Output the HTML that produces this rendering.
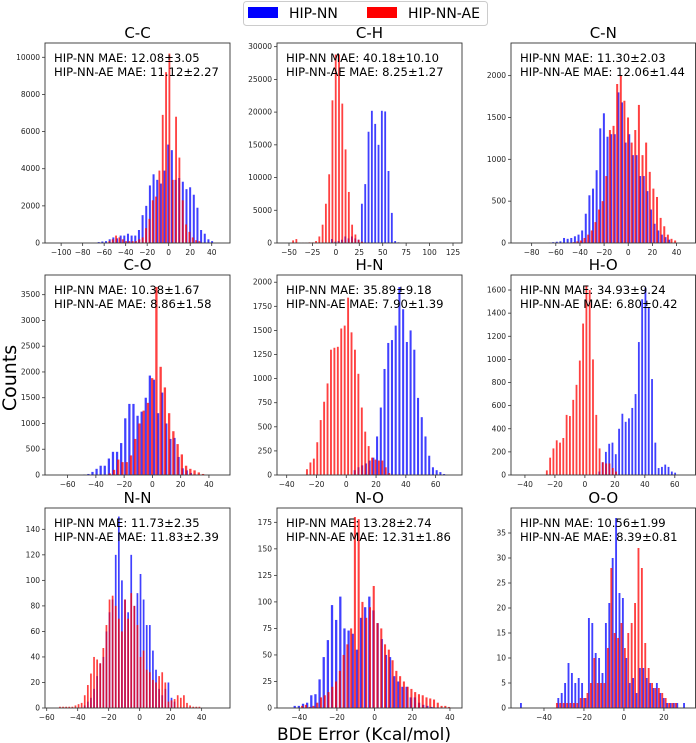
<!DOCTYPE html>
<html><head><meta charset="utf-8"><style>
html,body{margin:0;padding:0;background:#fff;}
svg{display:block;font-family:"DejaVu Sans","Liberation Sans",sans-serif;}
</style></head><body>
<svg id="fig" width="696" height="743" viewBox="0 0 696 743">
  <g>
    <rect x="243.5" y="1.5" width="244" height="24" rx="3" fill="#fff" stroke="#ccc"/>
    <rect x="248" y="7" width="30" height="11" fill="#0000ff"/>
    <text x="289" y="18" font-size="14">HIP-NN</text>
    <rect x="367" y="7" width="30" height="11" fill="#ff0000"/>
    <text x="408" y="18" font-size="14">HIP-NN-AE</text>
  </g>
  <text transform="translate(16,378) rotate(-90)" text-anchor="middle" font-size="19">Counts</text>
  <text x="364" y="740" text-anchor="middle" font-size="17">BDE Error (Kcal/mol)</text>
  <g id="panels"></g>
</svg>
<script>
// ---- data ----
const panelTitles = ["C-C","C-H","C-N","C-O","H-N","H-O","N-N","N-O","O-O"];
const maeNN = ["12.08±3.05","40.18±10.10","11.30±2.03","10.38±1.67","35.89±9.18","34.93±9.24","11.73±2.35","13.28±2.74","10.56±1.99"];
const maeAE = ["11.12±2.27","8.25±1.27","12.06±1.44","8.86±1.58","7.90±1.39","6.80±0.42","11.83±2.39","12.31±1.86","8.39±0.81"];
const xTicks = [[-100,-80,-60,-40,-20,0,20,40],[-50,-25,0,25,50,75,100,125],[-80,-60,-40,-20,0,20,40],
  [-60,-40,-20,0,20,40],[-40,-20,0,20,40,60],[-40,-20,0,20,40,60],
  [-60,-40,-20,0,20,40],[-40,-20,0,20,40],[-40,-20,0,20]];
const yTicks = [[0,2000,4000,6000,8000,10000],[0,5000,10000,15000,20000,25000,30000],[0,500,1000,1500,2000],
  [0,500,1000,1500,2000,2500,3000,3500],[0,250,500,750,1000,1250,1500,1750,2000],[0,200,400,600,800,1000,1200,1400,1600],
  [0,20,40,60,80,100,120,140],[0,25,50,75,100,125,150,175],[0,5,10,15,20,25,30,35]];
const xDomains = [[-115,57],[-62.8,134.6],[-97.1,55.7],[-76,54.9],[-46.5,77.7],[-49.3,73.8],[-61.1,58.3],[-51.8,46.4],[-56.5,35.8]];
const yMaxes = [10770,30560,2390,3882,2075,1730,156.7,188.5,40.0];
// bins: [start, width]
const blueBins = [[-66,3.4],[-5.15,3.55],[-66,3],[-49,2.9],[5,2.5],[9,2.2],[-36,2],[-43,2.2],[-52,1.7]];
const redBins  = [[-56,3.1],[-46.6,3.5],[-46,3],[-31,3],[-27,2.3],[-26,2.2],[-52,2],[-39,2],[-34,1.7]];
const blueCounts = [
  [50,80,100,200,300,250,400,400,500,400,400,700,1500,2000,3100,3700,3400,3200,3900,5300,5000,3400,3500,3300,2900,3000,2600,1900,700,500,200,100],
  [600,200,300,500,1000,700,1000,700,500,6000,9000,17000,20200,18200,15000,20200,20100,11000,4600,300,100],
  [5,10,15,20,60,50,60,80,100,150,350,570,650,870,1370,1550,1270,1300,1300,1800,1680,1200,1300,1050,1050,800,800,620,400,230,150,100,70,40],
  [10,20,60,120,180,180,320,450,450,620,1100,1380,1380,1150,1230,1500,1930,1850,1200,1600,1000,700,720,350,130,90,40,10],
  [50,80,100,120,150,180,400,700,1100,1370,1400,1550,1950,1720,1380,1500,1300,800,600,400,200,80,50,30,10],
  [30,110,200,270,280,180,400,530,460,490,580,700,1150,1520,1620,1450,830,280,60,70,90,70,30,20],
  [2,5,8,15,25,35,40,60,75,85,120,150,100,85,75,120,80,90,105,85,65,65,45,30,15,10,15,20,8,5],
  [2,2,4,5,12,13,27,48,64,97,83,105,75,73,70,55,85,95,105,92,80,65,50,48,30,25,20,20,10,10,5,3,2,1],
  [1,0,0,0,0,0,0,0,0,0,0,2,3,5,9,7,5,6,5,2,18,17,11,10,7,17,21,30,38,23,22,10,5,6,3,8,8,6,5,4,5,3,2,1,1,1,1,0,1]
];
const redCounts = [
  [100,200,400,300,200,100,100,100,100,200,300,800,1300,2300,2500,3900,6900,9200,10200,3400,6800,4600,2300,1000,600,300,150,100],
  [400,600,50,50,50,100,100,300,1000,2800,6000,10500,21800,28800,28800,21300,14300,7800,2800,1300,500,200],
  [10,20,30,60,100,150,250,400,500,800,1350,1400,1900,2000,1700,1500,1200,1350,1650,1050,1200,850,650,550,300,200,100,50,30],
  [30,100,300,250,250,380,700,1000,1250,1400,1880,3650,2100,1700,1200,850,600,400,180,120,90,50,20],
  [60,130,170,340,570,760,950,1300,1320,1330,1520,1550,1840,1480,1300,1050,700,450,300,180,160,150,150,80,20],
  [40,150,230,300,280,320,520,510,650,780,990,1310,1640,1600,1000,520,230,110,100,100,60,30],
  [1,1,1,1,1,2,3,4,10,18,27,40,38,35,47,65,85,88,80,70,60,85,70,90,80,65,40,45,30,28,22,20,25,28,20,5,6,7,10,8,10,4,2,1,1,1],
  [2,3,1,2,5,10,12,15,20,25,35,50,60,75,180,178,100,85,95,115,80,75,60,55,45,35,30,25,20,18,15,13,12,10,9,8,5,2,2,1],
  [1,1,1,1,1,1,1,2,2,3,5,10,5,5,5,12,28,15,14,17,12,15,17,21,32,28,13,8,5,4,4,3,2,1,1,1]
];
</script>
<script>
const NS="http://www.w3.org/2000/svg";
const colX=[[45,230],[277,462],[511,695.5]];
const rowY=[[43,243],[275,475],[508,708]];
const root=document.getElementById('panels');
function mk(tag,attrs,parent){const e=document.createElementNS(NS,tag);for(const k in attrs)e.setAttribute(k,attrs[k]);parent.appendChild(e);return e;}
panelTitles.forEach((title,i)=>{
  const [x0,x1]=colX[i%3],[y0,y1]=rowY[Math.floor(i/3)];
  const [d0,d1]=xDomains[i];
  const sx=v=>x0+(v-d0)/(d1-d0)*(x1-x0);
  const sy=v=>y1-v/yMaxes[i]*(y1-y0);
  const slug=title.toLowerCase();
  const g=mk('g',{},root);
  
  
  const t=mk('text',{x:(x0+x1)/2,y:y0-5,'text-anchor':'middle','font-size':'15'},g);
  t.textContent=title;
  
  
  const series=[[blueCounts[i],blueBins[i],'#0000ff','hip-nn'],[redCounts[i],redBins[i],'#ff0000','hip-nn-ae']];
  series.forEach(([cnt,bin,col,nm])=>{
    cnt.forEach((c,k)=>{
      if(c<=0)return;
      const a=bin[0]+k*bin[1], w=bin[1]*0.55;
      const px=sx(a), pw=Math.max(sx(a+w)-px,1.2), py=sy(c);
      const r=mk('rect',{x:px,y:py,width:pw,height:y1-py,fill:col,'fill-opacity':'0.75'},g);
      
      
    });
  });
  const fr=mk('rect',{x:x0,y:y0,width:x1-x0,height:y1-y0,fill:'none',stroke:'#333','stroke-width':'0.9'},g);
  
  
  xTicks[i].forEach(v=>{
    const x=sx(v);
    mk('line',{x1:x,x2:x,y1:y1,y2:y1+3,stroke:'#333','stroke-width':'0.8'},g);
    const tl=mk('text',{x:x,y:y1+12,'text-anchor':'middle','font-size':'7.5',fill:'#222'},g);
    tl.textContent=v<0?'\u2212'+(-v):String(v);
    
    
  });
  yTicks[i].forEach(v=>{
    const y=sy(v);
    mk('line',{x1:x0-3,x2:x0,y1:y,y2:y,stroke:'#333','stroke-width':'0.8'},g);
    const tl=mk('text',{x:x0-5,y:y+2.5,'text-anchor':'end','font-size':'7.5',fill:'#222'},g);
    tl.textContent=String(v);
    
    
  });
  const a1=mk('text',{x:x0+9,y:y0+19,'font-size':'11.6'},g);
  a1.textContent='HIP-NN MAE: '+maeNN[i];
  
  
  const a2=mk('text',{x:x0+9,y:y0+33,'font-size':'11.6'},g);
  a2.textContent='HIP-NN-AE MAE: '+maeAE[i];
  
  
});
</script>
</body></html>
